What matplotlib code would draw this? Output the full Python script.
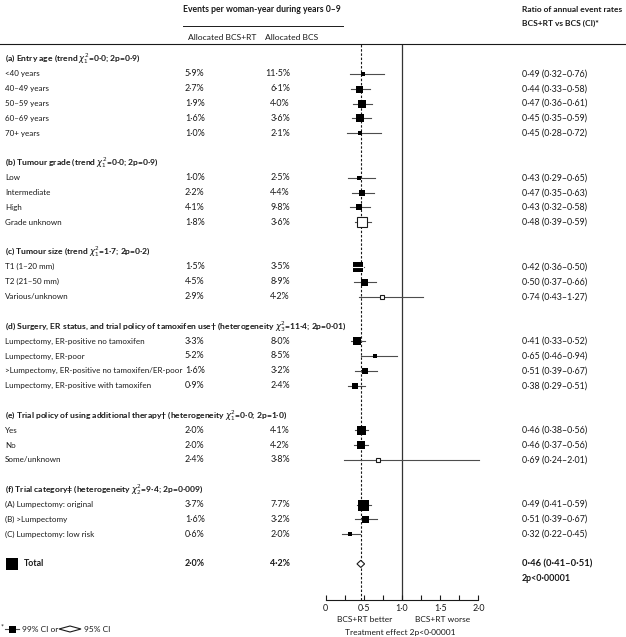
import matplotlib
matplotlib.use('Agg')
import matplotlib.pyplot as plt
import matplotlib.transforms as mtransforms
from matplotlib.lines import Line2D
from matplotlib.patches import Polygon

plt.rcParams['font.family'] = ['Lato', 'DejaVu Sans']
plt.rcParams['mathtext.fontset'] = 'dejavusans'

# section headers and row counts
headers = ["(a) Entry age (trend $\\chi^2_1$=0·0; 2p=0·9)",
           "(b) Tumour grade (trend $\\chi^2_1$=0·0; 2p=0·9)",
           "(c) Tumour size (trend $\\chi^2_1$=1·7; 2p=0·2)",
           "(d) Surgery, ER status, and trial policy of tamoxifen use† (heterogeneity $\\chi^2_3$=11·4; 2p=0·01)",
           "(e) Trial policy of using additional therapy† (heterogeneity $\\chi^2_1$=0·0; 2p=1·0)",
           "(f) Trial category‡ (heterogeneity $\\chi^2_2$=9·4; 2p=0·009)"]
n_rows = [5, 4, 3, 4, 3, 3]

labels = ["<40 years", "40–49 years", "50–59 years", "60–69 years", "70+ years",
          "Low", "Intermediate", "High", "Grade unknown",
          "T1 (1–20 mm)", "T2 (21–50 mm)", "Various/unknown",
          "Lumpectomy, ER-positive no tamoxifen", "Lumpectomy, ER-poor",
          ">Lumpectomy, ER-positive no tamoxifen/ER-poor", "Lumpectomy, ER-positive with tamoxifen",
          "Yes", "No", "Some/unknown",
          "(A) Lumpectomy: original", "(B) >Lumpectomy", "(C) Lumpectomy: low risk"]
rt = [5.9, 2.7, 1.9, 1.6, 1.0, 1.0, 2.2, 4.1, 1.8, 1.5, 4.5, 2.9,
      3.3, 5.2, 1.6, 0.9, 2.0, 2.0, 2.4, 3.7, 1.6, 0.6]
bcs = [11.5, 6.1, 4.0, 3.6, 2.1, 2.5, 4.4, 9.8, 3.6, 3.5, 8.9, 4.2,
       8.0, 8.5, 3.2, 2.4, 4.1, 4.2, 3.8, 7.7, 3.2, 2.0]
ratio = [0.49, 0.44, 0.47, 0.45, 0.45, 0.43, 0.47, 0.43, 0.48, 0.42, 0.50, 0.74,
         0.41, 0.65, 0.51, 0.38, 0.46, 0.46, 0.69, 0.49, 0.51, 0.32]
ci_lo = [0.32, 0.33, 0.36, 0.35, 0.28, 0.29, 0.35, 0.32, 0.39, 0.36, 0.37, 0.43,
         0.33, 0.46, 0.39, 0.29, 0.38, 0.37, 0.24, 0.41, 0.39, 0.22]
ci_hi = [0.76, 0.58, 0.61, 0.59, 0.72, 0.65, 0.63, 0.58, 0.59, 0.50, 0.66, 1.27,
         0.52, 0.94, 0.67, 0.51, 0.56, 0.56, 2.01, 0.59, 0.67, 0.45]
box_px = [5, 7, 8, 8, 4, 4, 6, 6, 10, 10, 7, 4, 8, 5, 6, 6, 9, 8, 4, 11, 7, 5]
hollow = [0, 0, 0, 0, 0, 0, 0, 0, 1, 0, 0, 1, 0, 0, 0, 0, 0, 0, 1, 0, 0, 0]

total_rt, total_bcs = 2.0, 4.2
total_ratio, total_lo, total_hi = 0.46, 0.41, 0.51

W, H = 626, 637
ink = '#1a1a1a'
fs = 6.0       # general text
fs_lab = 5.8   # row labels
fs_num = 6.4   # numeric columns
fs_head = 6.1  # bold headers


def dot(v, nd):
    return f"{v:.{nd}f}".replace('.', '·')


# row layout: header, rows, blank line
head_y, row_y = [], []
y = 0
for n in n_rows:
    head_y.append(y)
    row_y.extend(range(y + 1, y + 1 + n))
    y += n + 2
total_y = y

fig = plt.figure(figsize=(W / 100, H / 100), dpi=100)
# forest axes: x 0..2 at px 325.7..478.3, y rows from px 44 to 600
ax = fig.add_axes([325.7 / W, 1 - 600 / H, 152.6 / W, 556 / H])
ax.set_xlim(0, 2.0)
ax.set_ylim((600 - 59) / 14.85, (44 - 59) / 14.85)
for s in ['left', 'right', 'top']:
    ax.spines[s].set_visible(False)
ax.spines['bottom'].set_linewidth(0.8)
ax.spines['bottom'].set_color(ink)
ax.set_yticks([])
ax.set_xticks([0, 0.5, 1.0, 1.5, 2.0])
ax.set_xticklabels(['0', '0·5', '1·0', '1·5', '2·0'])
ax.set_xticks([0.25, 0.75, 1.25, 1.75], minor=True)
ax.tick_params(axis='x', which='both', direction='in', length=3.6, width=0.8,
               color=ink, labelsize=fs_num, labelcolor=ink, pad=3)
ax.patch.set_visible(False)

ax.axvline(total_ratio, color=ink, lw=0.8, ls=(0, (2.2, 1.6)), zorder=1)
ax.axvline(1.0, color='#333333', lw=0.9, zorder=1)

px_per_unit = 152.6 / 2.0
for yy, r, lo, hi, b, h in zip(row_y, ratio, ci_lo, ci_hi, box_px, hollow):
    ax.plot([lo, hi], [yy, yy], color='#4d4d4d', lw=0.8, zorder=2, clip_on=False)
    if h:
        ax.plot(r, yy, marker='s', ms=b * 0.72, mfc='white', mec=ink, mew=0.8,
                zorder=3, clip_on=False)
    else:
        ax.plot(r, yy, marker='s', ms=b * 0.72, mfc='black', mec='black', mew=0,
                zorder=3)
        half = b / 2 / px_per_unit
        if (hi - lo) * px_per_unit < b * 1.1:
            ax.plot([max(lo, r - half), min(hi, r + half)], [yy, yy],
                    color='white', lw=0.8, zorder=4)

# total diamond
ax.add_patch(Polygon([[total_lo, total_y], [total_ratio, total_y - 0.24],
                      [total_hi, total_y], [total_ratio, total_y + 0.24]],
                     closed=True, facecolor='white', edgecolor=ink, lw=0.8, zorder=3))

tr = mtransforms.blended_transform_factory(fig.transFigure, ax.transData)
x_lab, x_rt, x_bcs, x_ci = 5 / W, 185 / W, 290 / W, 522 / W

for yy, t in zip(head_y, headers):
    fig.text(x_lab, yy, t, transform=tr, fontsize=fs_head, fontweight='bold', color=ink,
             va='center', ha='left')
for yy, lab, a, b, r, lo, hi in zip(row_y, labels, rt, bcs, ratio, ci_lo, ci_hi):
    fig.text(x_lab, yy, lab, transform=tr, fontsize=fs_lab, color=ink, va='center')
    fig.text(x_rt, yy, dot(a, 1) + '%', transform=tr, fontsize=fs_num, color=ink,
             va='center')
    fig.text(x_bcs, yy, dot(b, 1) + '%', transform=tr, fontsize=fs_num, color=ink,
             va='center', ha='right')
    fig.text(x_ci, yy, f"{dot(r, 2)} ({dot(lo, 2)}–{dot(hi, 2)})", transform=tr,
             fontsize=fs_num, color=ink, va='center')

# total row
fig.text(24 / W, total_y, 'Total', transform=tr, fontsize=fs_head + 0.2, fontweight='bold',
         color=ink, va='center')
fig.text(x_rt, total_y, dot(total_rt, 1) + '%', transform=tr, fontsize=fs_num,
         fontweight='bold', color=ink, va='center')
fig.text(x_bcs, total_y, dot(total_bcs, 1) + '%', transform=tr, fontsize=fs_num,
         fontweight='bold', color=ink, va='center', ha='right')
fig.text(x_ci, total_y, f"{dot(total_ratio, 2)} ({dot(total_lo, 2)}–{dot(total_hi, 2)})",
         transform=tr, fontsize=fs_num + 0.4, fontweight='bold', color=ink, va='center')
fig.text(x_ci, total_y + 1, '2p<0·00001', transform=tr, fontsize=fs_num,
         fontweight='bold', color=ink, va='center')
fig.add_artist(Line2D([12 / W], [1 - 564 / H], marker='s', ms=12 * 0.72,
                      mfc='black', mec='black', mew=0, transform=fig.transFigure))

# column headers
fig.text(183 / W, 1 - 9 / H, 'Events per woman-year during years 0–9', fontsize=6.2,
         fontweight='bold', color=ink, va='center')
fig.text(x_ci, 1 - 9 / H, 'Ratio of annual event rates', fontsize=6.0,
         fontweight='bold', color=ink, va='center')
fig.text(x_ci, 1 - 23 / H, 'BCS+RT vs BCS (CI)*', fontsize=6.0,
         fontweight='bold', color=ink, va='center')
fig.text(188 / W, 1 - 37 / H, 'Allocated BCS+RT', fontsize=fs + 0.1, color=ink, va='center')
fig.text(265 / W, 1 - 37 / H, 'Allocated BCS', fontsize=fs + 0.1, color=ink, va='center')
fig.add_artist(Line2D([183 / W, 343 / W], [1 - 26 / H] * 2, color=ink, lw=0.7,
                      transform=fig.transFigure))
fig.add_artist(Line2D([0, 1], [1 - 44 / H] * 2, color=ink, lw=0.8,
                      transform=fig.transFigure))

# under the axis
ax.text(0.87, 1 - (620 - 44) / 556, 'BCS+RT better', transform=ax.get_xaxis_transform(),
        fontsize=fs, color=ink, ha='right', va='center')
ax.text(1.17, 1 - (620 - 44) / 556, 'BCS+RT worse', transform=ax.get_xaxis_transform(),
        fontsize=fs, color=ink, ha='left', va='center')
ax.text(0.98, 1 - (632 - 44) / 556, 'Treatment effect 2p<0·00001',
        transform=ax.get_xaxis_transform(), fontsize=fs, color=ink, ha='center', va='center')

# footnote key
yk = 1 - 629 / H
fig.text(1 / W, yk + 2 / H, '*', fontsize=fs - 1, color=ink, va='center')
fig.add_artist(Line2D([5 / W, 19 / W], [yk, yk], color='#4d4d4d', lw=0.8,
                      transform=fig.transFigure))
fig.add_artist(Line2D([12 / W], [yk], marker='s', ms=7 * 0.72, mfc='black', mew=0,
                      transform=fig.transFigure))
fig.text(22 / W, yk, '99% CI or', fontsize=fs, color=ink, va='center')
fig.add_artist(Polygon([[59 / W, yk], [70 / W, yk + 3 / H], [81 / W, yk], [70 / W, yk - 3 / H]],
                       closed=True, facecolor='white', edgecolor=ink, lw=0.8,
                       transform=fig.transFigure))
fig.text(84 / W, yk, '95% CI', fontsize=fs, color=ink, va='center')

fig.savefig('out.png', dpi=100)
